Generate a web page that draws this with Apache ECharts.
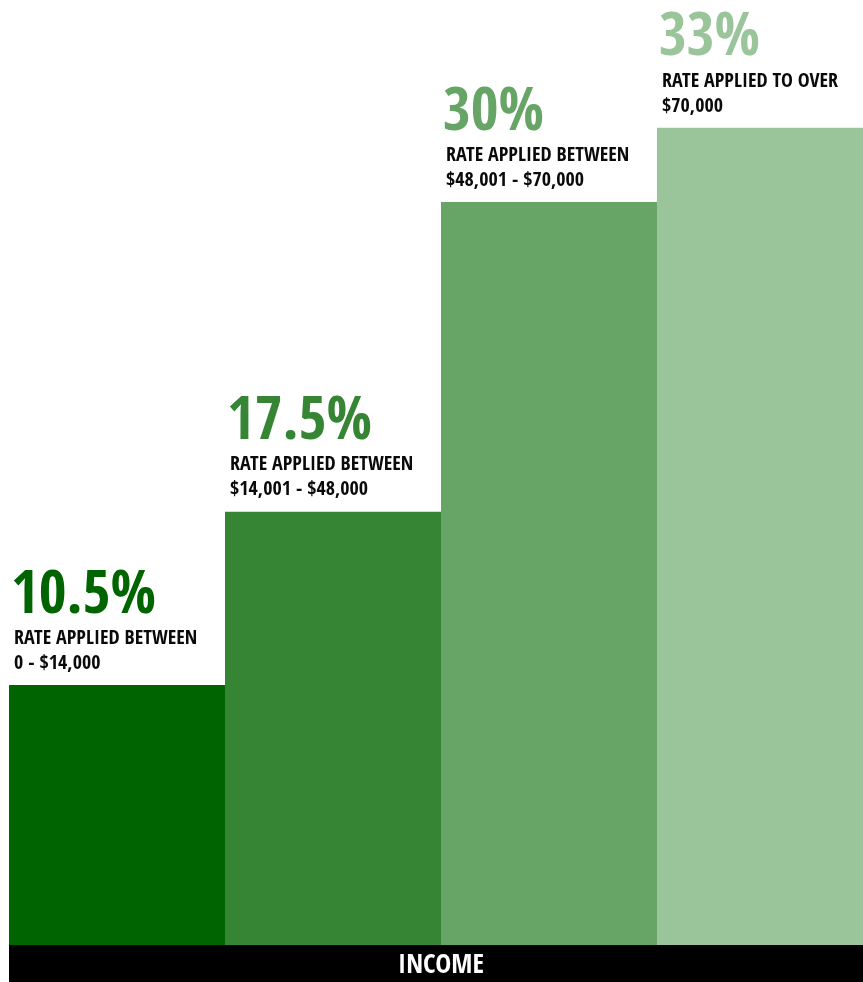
<!DOCTYPE html>
<html>
<head>
<meta charset="utf-8">
<script src="https://cdn.jsdelivr.net/npm/echarts@6/dist/echarts.min.js"></script>
<style>
  html, body { margin: 0; padding: 0; background: #fff; }
  #container { width: 863px; height: 982px; }
</style>
</head>
<body>
<div id="container"></div>
<script>
const brackets = ["0 - $14,000", "$14,001 - $48,000", "$48,001 - $70,000", "$70,000"];
const rates = [10.5, 17.5, 30, 33];
const rateLabels = ["10.5%", "17.5%", "30%", "33%"];
const captions = ["RATE APPLIED BETWEEN", "RATE APPLIED BETWEEN", "RATE APPLIED BETWEEN", "RATE APPLIED TO OVER"];
const colors = ["#006400", "#358535", "#67a567", "#9ac49a"];

const font = '"Open Sans Condensed", "Roboto Condensed", sans-serif';

const myChart = echarts.init(document.getElementById("container"), null, { renderer: "canvas" });

const option = {
  animation: false,
  grid: { left: 9, right: -10, top: 4, bottom: 37, outerBoundsMode: "none" },
  xAxis: {
    type: "category",
    data: brackets,
    axisLine: { show: false },
    axisTick: { show: false },
    axisLabel: { show: false },
    name: "INCOME",
    nameLocation: "middle",
    nameGap: 7,
    nameTextStyle: { color: "#fff", fontFamily: font, fontWeight: "bold", fontSize: 27 }
  },
  yAxis: {
    type: "value",
    min: 0,
    max: 38,
    show: false,
    splitLine: { show: false }
  },
  // black income band under the bars
  graphic: [
    {
      type: "rect",
      left: 9,
      bottom: 0,
      z: -1,
      shape: { width: 854, height: 37 },
      style: { fill: "#000" }
    }
  ],
  series: [
    {
      type: "bar",
      barWidth: "100%",
      barCategoryGap: 0,
      data: rates.map((v, i) => ({
        value: v,
        itemStyle: { color: colors[i] },
        label: {
          formatter: "{p|" + rateLabels[i] + "}\n{t|" + captions[i] + "}\n{t|" + brackets[i] + "}",
          rich: {
            p: { color: colors[i], fontFamily: font, fontWeight: "bold", fontSize: 60, lineHeight: 58 },
            t: { color: "#0a0a0a", fontFamily: font, fontWeight: "bold", fontSize: 20, lineHeight: 25, padding: [0, 0, 0, 3] }
          }
        }
      })),
      label: {
        show: true,
        position: [2, -9],
        verticalAlign: "bottom",
        align: "left"
      }
    }
  ]
};

myChart.setOption(option);
window.addEventListener("resize", myChart.resize);
</script>
</body>
</html>
